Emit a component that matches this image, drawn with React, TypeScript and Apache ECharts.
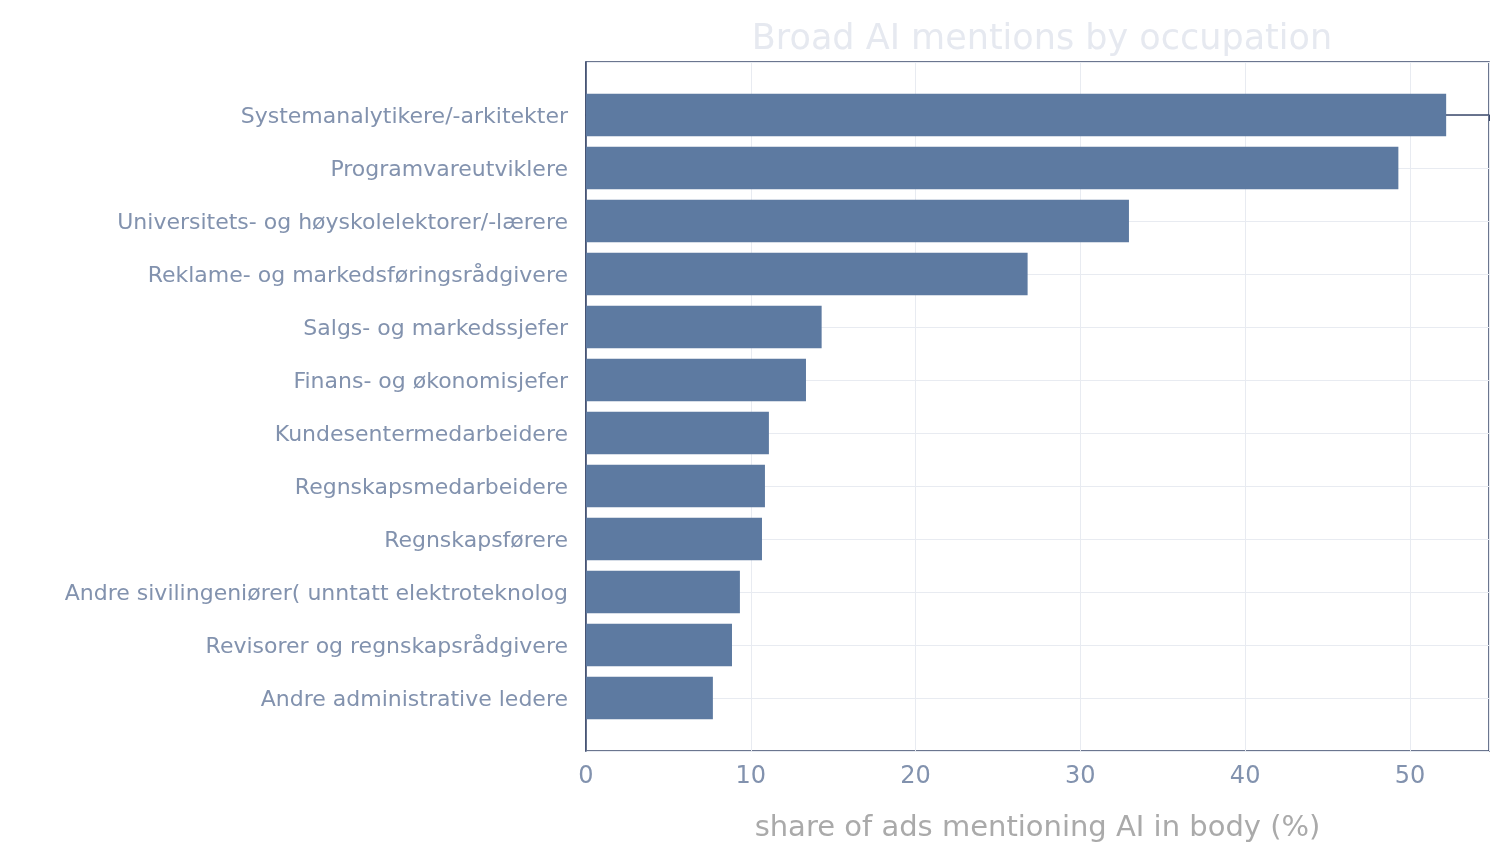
import { useEffect, useRef } from 'react';
import * as echarts from 'echarts';

const occupations = [
  'Systemanalytikere/-arkitekter',
  'Programvareutviklere',
  'Universitets- og høyskolelektorer/-lærere',
  'Reklame- og markedsføringsrådgivere',
  'Salgs- og markedssjefer',
  'Finans- og økonomisjefer',
  'Kundesentermedarbeidere',
  'Regnskapsmedarbeidere',
  'Regnskapsførere',
  'Andre sivilingeniører( unntatt elektroteknolog',
  'Revisorer og regnskapsrådgivere',
  'Andre administrative ledere',
];
const shares = [52.2, 49.3, 32.95, 26.8, 14.3, 13.35, 11.1, 10.86, 10.68, 9.34, 8.86, 7.7];
const xTicks = [0, 10, 20, 30, 40, 50];

export default function App() {
  const ref = useRef<HTMLDivElement>(null);

  useEffect(() => {
    if (!ref.current) return;
    const chart = echarts.init(ref.current, undefined, { renderer: 'svg' });
    const font = "'DejaVu Sans', sans-serif";
    chart.setOption({
      animation: false,
      title: {
        text: 'Broad AI mentions by occupation',
        left: 1037,
        textAlign: 'center',
        top: 14,
        textStyle: { color: '#e6e9f0', fontSize: 35, fontWeight: 'normal', fontFamily: font },
      },
      grid: { left: 586, right: 19, top: 62, bottom: 108, show: true, borderColor: '#3b4a6b', borderWidth: 1.5 },
      xAxis: {
        type: 'value',
        min: 0,
        max: 54.8,
        interval: 10,
        name: 'share of ads mentioning AI in body (%)',
        nameLocation: 'middle',
        nameGap: 60,
        nameTextStyle: { color: '#aaaaaa', fontSize: 29, fontFamily: font },
        axisLine: { show: true, lineStyle: { color: '#3b4a6b', width: 1.5 } },
        axisTick: { show: true, length: 6, lineStyle: { color: '#3b4a6b' } },
        axisLabel: {
          color: '#8292ae',
          fontSize: 24,
          fontFamily: font,
          margin: 12,
          formatter: (v: number) => (xTicks.includes(v) ? String(v) : ''),
        },
        splitLine: { show: true, lineStyle: { color: '#e8ebf1', width: 1 } },
      },
      yAxis: {
        type: 'value',
        inverse: true,
        min: -1,
        max: 12,
        interval: 1,
        axisLine: { show: true, lineStyle: { color: '#3b4a6b', width: 1.5 } },
        axisTick: { show: false },
        axisLabel: {
          color: '#8292ae',
          fontSize: 22,
          fontFamily: font,
          margin: 18,
          formatter: (v: number) => occupations[v] ?? '',
        },
        splitLine: { show: true, lineStyle: { color: '#e8ebf1', width: 1 } },
      },
      series: [
        {
          type: 'custom',
          renderItem: (_params: any, api: any) => {
            const v = api.value(0);
            const i = api.value(1);
            const a = api.coord([0, i - 0.4]);
            const b = api.coord([v, i + 0.4]);
            return {
              type: 'rect',
              shape: { x: a[0], y: a[1], width: b[0] - a[0], height: b[1] - a[1] },
              style: { fill: '#5d7aa1' },
            };
          },
          encode: { x: 0, y: 1 },
          data: shares.map((v, i) => [v, i]),
        },
      ],
    });
    return () => chart.dispose();
  }, []);

  return <div ref={ref} style={{ position: 'fixed', left: 0, top: 0, width: 1508, height: 859 }} />;
}
